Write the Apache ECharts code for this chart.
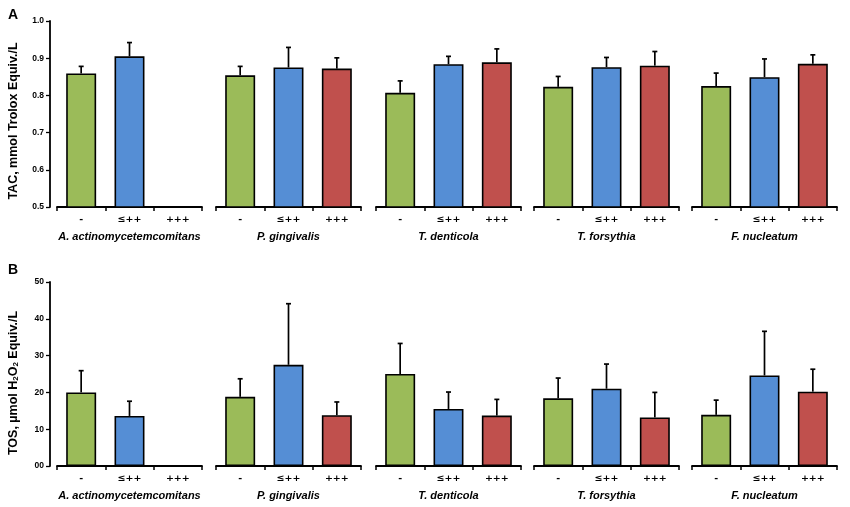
<!DOCTYPE html>
<html>
<head>
<meta charset="utf-8">
<script src="https://cdn.jsdelivr.net/npm/echarts@6/dist/echarts.min.js"></script>
<style>html,body{margin:0;padding:0;background:#fff}#c{width:850px;height:507px}</style>
</head>
<body>
<div id="c"></div>
<script>
const categories = ['-', '≤++', '+++'];
const groups = ['A. actinomycetemcomitans', 'P. gingivalis', 'T. denticola', 'T. forsythia', 'F. nucleatum'];

// Panel A: TAC (mmol Trolox Equiv./L), mean and SD per group
const tacNeg = [0.859, 0.854, 0.807, 0.823, 0.825];
const tacNegErr = [0.019, 0.024, 0.032, 0.028, 0.035];
const tacLow = [0.905, 0.875, 0.884, 0.876, 0.849];
const tacLowErr = [0.037, 0.054, 0.021, 0.026, 0.049];
const tacHigh = [null, 0.872, 0.889, 0.880, 0.885];
const tacHighErr = [null, 0.029, 0.036, 0.038, 0.024];

// Panel B: TOS (µmol H2O2 Equiv./L), mean and SD per group
const tosNeg = [20.0, 18.8, 25.0, 18.4, 13.9];
const tosNegErr = [5.9, 4.9, 8.3, 5.5, 4.0];
const tosLow = [13.6, 27.5, 15.5, 21.0, 24.6];
const tosLowErr = [4.0, 16.6, 4.6, 6.7, 12.0];
const tosHigh = [null, 13.8, 13.7, 13.2, 20.2];
const tosHighErr = [null, 3.6, 4.4, 6.8, 6.1];

const tacTicks = [0.5, 0.6, 0.7, 0.8, 0.9, 1.0];
const tosTicks = [0, 10, 20, 30, 40, 50];

const colors = ['#9BBB59', '#558ED5', '#C0504D'];
const FONT = '"Liberation Sans", Arial, sans-serif';
const CATFONT = '"DejaVu Sans", sans-serif';
const gridLefts = [57, 216, 376, 534, 692];
const gridWidth = 145;

const panels = [
  { top: 21, height: 186, min: 0.5, max: 1.0, interval: 0.1,
    means: [tacNeg, tacLow, tacHigh], errs: [tacNegErr, tacLowErr, tacHighErr],
    name: 'TAC, mmol Trolox Equiv./L', namePad: [0, 14, 0, 0],
    fmt: v => v.toFixed(1) },
  { top: 282, height: 184, min: 0, max: 50, interval: 10,
    means: [tosNeg, tosLow, tosHigh], errs: [tosNegErr, tosLowErr, tosHighErr],
    name: '{b|TOS, µmol H}{s|2}{b|O}{s|2}{b| Equiv./L}', namePad: [0, 18, 0, 0],
    fmt: v => (v === 0 ? '00' : String(v)) }
];

const grid = [], xAxis = [], yAxis = [], series = [];
panels.forEach((p, pi) => {
  groups.forEach((g, gi) => {
    const idx = grid.length;
    grid.push({ left: gridLefts[gi], width: gridWidth, top: p.top, height: p.height });
    xAxis.push({
      type: 'category', gridIndex: idx, data: categories,
      axisLine: { lineStyle: { color: '#000', width: 1.8 } },
      axisTick: { show: true, length: 4, lineStyle: { color: '#000', width: 1.5 } },
      axisLabel: { color: '#000', fontFamily: CATFONT, fontWeight: 'bold', fontSize: 9.5, margin: 8 },
      name: g, nameLocation: 'middle', nameGap: 24,
      nameTextStyle: { color: '#000', fontFamily: FONT, fontWeight: 'bold', fontStyle: 'italic', fontSize: 11 }
    });
    const first = gi === 0;
    yAxis.push({
      type: 'value', gridIndex: idx, min: p.min, max: p.max, interval: p.interval,
      show: first, offset: 7,
      axisLine: { show: true, lineStyle: { color: '#000', width: 1.8 } },
      axisTick: { show: true, length: 4, lineStyle: { color: '#000', width: 1.3 } },
      axisLabel: { color: '#000', fontFamily: FONT, fontWeight: 'bold', fontSize: 8.5, margin: 6, formatter: p.fmt },
      splitLine: { show: false },
      name: first ? p.name : '', nameLocation: 'middle', nameGap: 30, nameRotate: 90,
      nameTextStyle: {
        color: '#000', fontFamily: FONT, fontWeight: 'bold', fontSize: 12.5, padding: p.namePad,
        rich: {
          b: { color: '#000', fontFamily: FONT, fontWeight: 'bold', fontSize: 12.5 },
          s: { color: '#000', fontFamily: FONT, fontWeight: 'bold', fontSize: 8, verticalAlign: 'bottom', padding: [5, 0, 0, 0] }
        }
      }
    });
    const barData = categories.map((c, ci) => {
      const v = p.means[ci][gi];
      return v == null ? '-' : { value: v, itemStyle: { color: colors[ci] } };
    });
    series.push({
      type: 'bar', xAxisIndex: idx, yAxisIndex: idx, data: barData, barWidth: '62%',
      itemStyle: { borderColor: '#000', borderWidth: 1.6 }, silent: true, z: 2
    });
    const errData = [];
    categories.forEach((c, ci) => {
      const v = p.means[ci][gi], e = p.errs[ci][gi];
      if (v != null) errData.push([ci, v, e]);
    });
    series.push({
      type: 'custom', xAxisIndex: idx, yAxisIndex: idx, data: errData, z: 1, silent: true,
      renderItem: (params, api) => {
        const x = api.value(0), m = api.value(1), e = api.value(2);
        const b = api.coord([x, m]);
        const t = api.coord([x, m + e]);
        const st = { stroke: '#000', lineWidth: 1.7 };
        return { type: 'group', children: [
          { type: 'line', shape: { x1: b[0], y1: b[1], x2: t[0], y2: t[1] }, style: st },
          { type: 'line', shape: { x1: t[0] - 2.5, y1: t[1], x2: t[0] + 2.5, y2: t[1] }, style: st }
        ] };
      }
    });
  });
});

const chart = echarts.init(document.getElementById('c'), null, { renderer: 'canvas' });
chart.setOption({
  animation: false,
  backgroundColor: '#fff',
  title: [
    { text: 'A', left: 3, top: 3, textStyle: { fontFamily: FONT, fontWeight: 'bold', fontSize: 14, color: '#000' } },
    { text: 'B', left: 3, top: 258, textStyle: { fontFamily: FONT, fontWeight: 'bold', fontSize: 14, color: '#000' } }
  ],
  grid, xAxis, yAxis, series
});
</script>
</body>
</html>
